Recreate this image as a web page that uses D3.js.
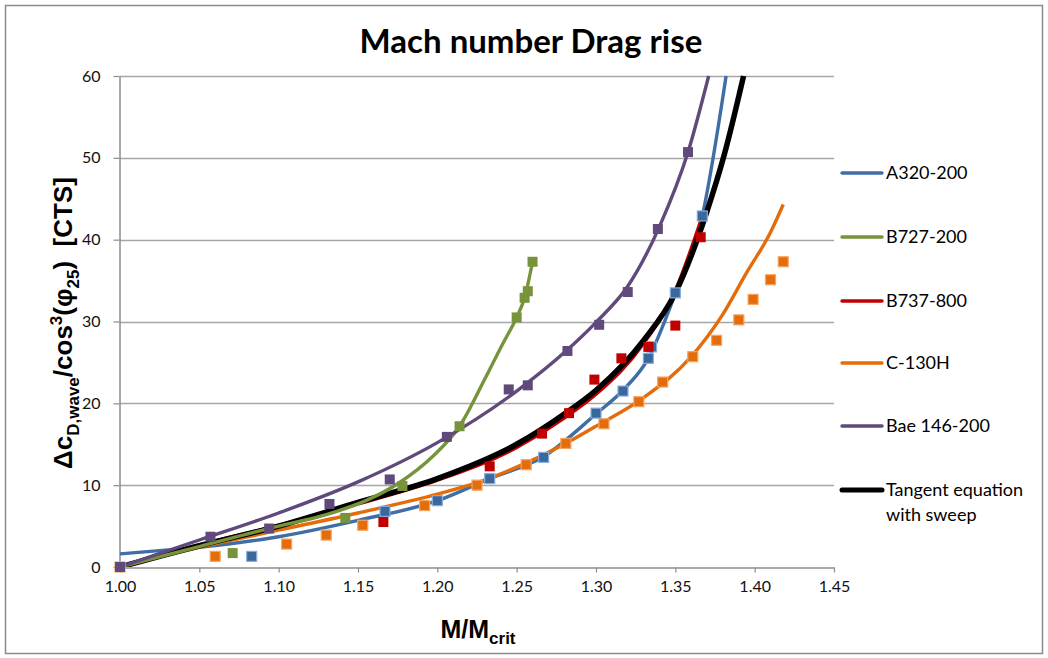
<!DOCTYPE html>
<html>
<head>
<meta charset="utf-8">
<script src="https://cdn.jsdelivr.net/npm/d3@7"></script>
<style>
  body { margin: 0; background: #fff; }
  text { font-family: Lato, "Liberation Sans", sans-serif; }
</style>
</head>
<body>
<svg id="chart" width="1048" height="658"></svg>
<script>
`use strict`;

// axis ticks
const xTicks = [1.00, 1.05, 1.10, 1.15, 1.20, 1.25, 1.30, 1.35, 1.40, 1.45];
const yTicks = [0, 10, 20, 30, 40, 50, 60];

// legend names, in legend order
const names = [`A320-200`, `B727-200`, `B737-800`, `C-130H`, `Bae 146-200`, `Tangent equation`];

// measured points [M/Mcrit, dCD]
const a320Pts = [[1.083, 1.3], [1.167, 6.8], [1.200, 8.1], [1.233, 10.8], [1.267, 13.4], [1.300, 18.8], [1.317, 21.5], [1.333, 25.5], [1.335, 26.9], [1.350, 33.5], [1.367, 42.9]];
const b727Pts = [[1.071, 1.7], [1.142, 6.0], [1.178, 9.9], [1.214, 17.2], [1.250, 30.5], [1.255, 32.9], [1.257, 33.7], [1.260, 37.3]];
const b737Pts = [[1.166, 5.5], [1.233, 12.3], [1.266, 16.3], [1.283, 18.8], [1.299, 22.9], [1.316, 25.5], [1.333, 26.9], [1.350, 29.5], [1.366, 40.3]];
const c130Pts = [[1.000, 0], [1.060, 1.3], [1.105, 2.8], [1.130, 3.9], [1.153, 5.1], [1.192, 7.5], [1.225, 10.0], [1.256, 12.5], [1.281, 15.1], [1.305, 17.5], [1.327, 20.2], [1.342, 22.6], [1.361, 25.7], [1.376, 27.7], [1.390, 30.2], [1.399, 32.7], [1.410, 35.1], [1.418, 37.3]];
const bae146Pts = [[1.000, 0], [1.057, 3.7], [1.094, 4.7], [1.132, 7.7], [1.170, 10.7], [1.206, 15.9], [1.245, 21.7], [1.257, 22.2], [1.282, 26.4], [1.302, 29.6], [1.320, 33.6], [1.339, 41.3], [1.358, 50.7]];

// fitted curves
const a320Fit = [[1.00, 1.6], [1.025, 2.0], [1.05, 2.4], [1.10, 3.7], [1.15, 5.7], [1.20, 8.1], [1.233, 10.8], [1.267, 13.5], [1.30, 18.7], [1.317, 21.6], [1.333, 25.5], [1.35, 33.4], [1.367, 42.9], [1.382, 60]];
const b727Fit = [[1.00, 0], [1.05, 2.5], [1.10, 5.0], [1.13, 6.4], [1.156, 8.2], [1.176, 10.3], [1.197, 13.5], [1.214, 17.2], [1.230, 23.0], [1.241, 27.2], [1.250, 30.5], [1.255, 32.9], [1.260, 37.3]];
const b737Fit = [[1.00, 0], [1.05, 2.7], [1.10, 5.1], [1.15, 7.7], [1.20, 10.6], [1.25, 14.6], [1.28, 18.2], [1.30, 21.1], [1.33, 27.3], [1.35, 33.8], [1.366, 42.3]];
const c130Fit = [[1.00, 0], [1.05, 2.4], [1.10, 4.5], [1.15, 6.6], [1.20, 8.9], [1.225, 10.3], [1.25, 12.2], [1.28, 15.0], [1.30, 17.2], [1.33, 20.7], [1.36, 25.7], [1.38, 30.9], [1.395, 36.0], [1.41, 40.9], [1.418, 44.3]];
const bae146Fit = [[1.00, 0], [1.05, 3.3], [1.10, 6.6], [1.15, 10.4], [1.20, 15.2], [1.25, 21.5], [1.28, 26.2], [1.30, 29.9], [1.32, 34.3], [1.34, 41.6], [1.358, 50.7], [1.371, 60]];
const tangentFit = [[1.00, 0], [1.05, 2.6], [1.10, 5.0], [1.15, 7.9], [1.20, 10.8], [1.25, 15.0], [1.28, 18.7], [1.30, 21.6], [1.33, 27.7], [1.35, 33.5], [1.37, 43.5], [1.381, 50.5], [1.393, 60]];

(function () {

  const svg = d3.select(`#chart`);

  const X0 = 120, X1 = 834, Y0 = 567, Y1 = 76;

  let x = d3.scaleLinear().domain([1.00, 1.45]).range([X0, X1]);
  let y = d3.scaleLinear().domain([0, 60]).range([Y0, Y1]);

  svg.append(`rect`)
    .attr(`x`, 5.5).attr(`y`, 5.5)
    .attr(`width`, 1037).attr(`height`, 648)
    .attr(`fill`, `#fff`)
    .attr(`stroke`, `#8c8c8c`)
    .attr(`stroke-width`, 1.5);

  svg.append(`text`)
    .attr(`x`, 531).attr(`y`, 53)
    .attr(`text-anchor`, `middle`)
    .style(`font-size`, `33px`)
    .style(`font-weight`, `bold`)
    .text(`Mach number Drag rise`);

  // gridlines
  svg.append(`g`).selectAll(`line`).data(yTicks.filter(d => d > 0))
    .enter()
    .append(`line`)
    .attr(`x1`, X0).attr(`x2`, X1)
    .attr(`y1`, d => Math.round(y(d)) + .5)
    .attr(`y2`, d => Math.round(y(d)) + .5)
    .attr(`stroke`, `#a6a6a6`)
    .style(`stroke-width`, 1.5);

  let xAxis = svg.append(`g`)
    .attr(`transform`, `translate(0,${Y0 + .5})`)
    .call(d3.axisBottom(x).tickValues(xTicks).tickFormat(d3.format(`.2f`)).tickSize(5).tickSizeOuter(0));

  let yAxis = svg.append(`g`)
    .attr(`transform`, `translate(${X0 - .5},0)`)
    .call(d3.axisLeft(y).tickValues(yTicks).tickSize(6).tickSizeOuter(0));

  [xAxis, yAxis].forEach(g => {
    g.select(`.domain`).attr(`stroke`, `#8c8c8c`).style(`stroke-width`, 1.5);
    g.selectAll(`.tick line`).attr(`stroke`, `#8c8c8c`).style(`stroke-width`, 1.2);
    g.selectAll(`.tick text`)
      .style(`font-family`, `Lato`)
      .style(`font-size`, `16px`)
      .attr(`fill`, `#111`);
  });

  xAxis.selectAll(`.tick text`).attr(`y`, 13);
  yAxis.selectAll(`.tick text`).attr(`x`, -19);

  // axis titles
  let xt = svg.append(`text`)
    .attr(`x`, 478).attr(`y`, 638)
    .attr(`text-anchor`, `middle`)
    .style(`font-family`, `"Liberation Sans", Arial`)
    .style(`font-weight`, `bold`)
    .style(`font-size`, `25px`);
  xt.append(`tspan`).text(`M/M`);
  xt.append(`tspan`).attr(`dy`, 6).style(`font-size`, `17px`).text(`crit`);

  let yt = svg.append(`text`)
    .attr(`transform`, `translate(72,323) rotate(-90)`)
    .attr(`text-anchor`, `middle`)
    .style(`font-family`, `"Liberation Sans", Arial`)
    .style(`font-weight`, `bold`)
    .style(`font-size`, `26px`);
  yt.append(`tspan`).text(`Δc`);
  yt.append(`tspan`).attr(`dy`, 7).style(`font-size`, `17px`).text(`D,wave`);
  yt.append(`tspan`).attr(`dy`, -7).text(`/cos`);
  yt.append(`tspan`).attr(`dy`, -10).style(`font-size`, `17px`).text(`3`);
  yt.append(`tspan`).attr(`dy`, 10).text(`(φ`);
  yt.append(`tspan`).attr(`dy`, 7).style(`font-size`, `17px`).text(`25`);
  yt.append(`tspan`).attr(`dy`, -7).attr(`xml:space`, `preserve`).text(`)  [CTS]`);

  svg.append(`clipPath`).attr(`id`, `plot`)
    .append(`rect`)
    .attr(`x`, X0).attr(`y`, Y1 - 1)
    .attr(`width`, X1 - X0).attr(`height`, Y0 - Y1 + 1);

  let line = d3.line()
    .x(d => x(d[0]))
    .y(d => y(d[1]))
    .curve(d3.curveMonotoneX);

  let fits = [
    {data: a320Fit, color: `#3f6ea5`, w: 3.4},
    {data: c130Fit, color: `#e46c0a`, w: 3.4},
    {data: b737Fit, color: `#c00000`, w: 3.4},
    {data: tangentFit, color: `#000`, w: 5.5},
    {data: b727Fit, color: `#77933c`, w: 3.4},
    {data: bae146Fit, color: `#604a7b`, w: 3.4}
  ];

  let plot = svg.append(`g`).attr(`clip-path`, `url(#plot)`);

  plot.selectAll(`path.fit`).data(fits)
    .enter()
    .append(`path`)
    .attr(`class`, `fit`)
    .attr(`d`, d => line(d.data))
    .attr(`fill`, `none`)
    .attr(`stroke`, d => d.color)
    .style(`stroke-width`, d => d.w)
    .style(`stroke-linejoin`, `round`);

  let pts = [
    {data: c130Pts, fill: `#e46c0a`, stroke: `#f7a461`},
    {data: a320Pts, fill: `#3a679c`, stroke: `#86addf`},
    {data: b727Pts, fill: `#77933c`, stroke: `none`},
    {data: b737Pts, fill: `#c00000`, stroke: `none`},
    {data: bae146Pts, fill: `#604a7b`, stroke: `none`}
  ];

  pts.forEach(S => {

    svg.append(`g`).selectAll(`rect`).data(S.data)
      .enter()
      .append(`rect`)
      .attr(`x`, d => x(d[0]) - 5)
      .attr(`y`, d => y(d[1]) - 5)
      .attr(`width`, 10)
      .attr(`height`, 10)
      .attr(`fill`, S.fill)
      .attr(`stroke`, S.stroke)
      .style(`stroke-width`, 1.2);
  });

  // legend
  let legendY = [173, 237, 301, 363, 426, 490];
  let legendC = [`#3f6ea5`, `#77933c`, `#c00000`, `#e46c0a`, `#604a7b`, `#000`];

  let lg = svg.append(`g`).selectAll(`g`).data(names)
    .enter()
    .append(`g`)
    .attr(`transform`, (d, i) => `translate(0,${legendY[i]})`);

  lg.append(`line`)
    .attr(`x1`, 842).attr(`x2`, 882)
    .attr(`stroke`, (d, i) => legendC[i])
    .style(`stroke-width`, (d, i) => i === 5 ? 5 : 3.4)
    .style(`stroke-linecap`, `round`);

  lg.append(`text`)
    .attr(`x`, 886).attr(`y`, 6)
    .style(`font-size`, `18px`)
    .text(d => d);

  svg.append(`text`)
    .attr(`x`, 886).attr(`y`, 521)
    .style(`font-size`, `18px`)
    .text(`with sweep`);

})();
</script>
</body>
</html>
